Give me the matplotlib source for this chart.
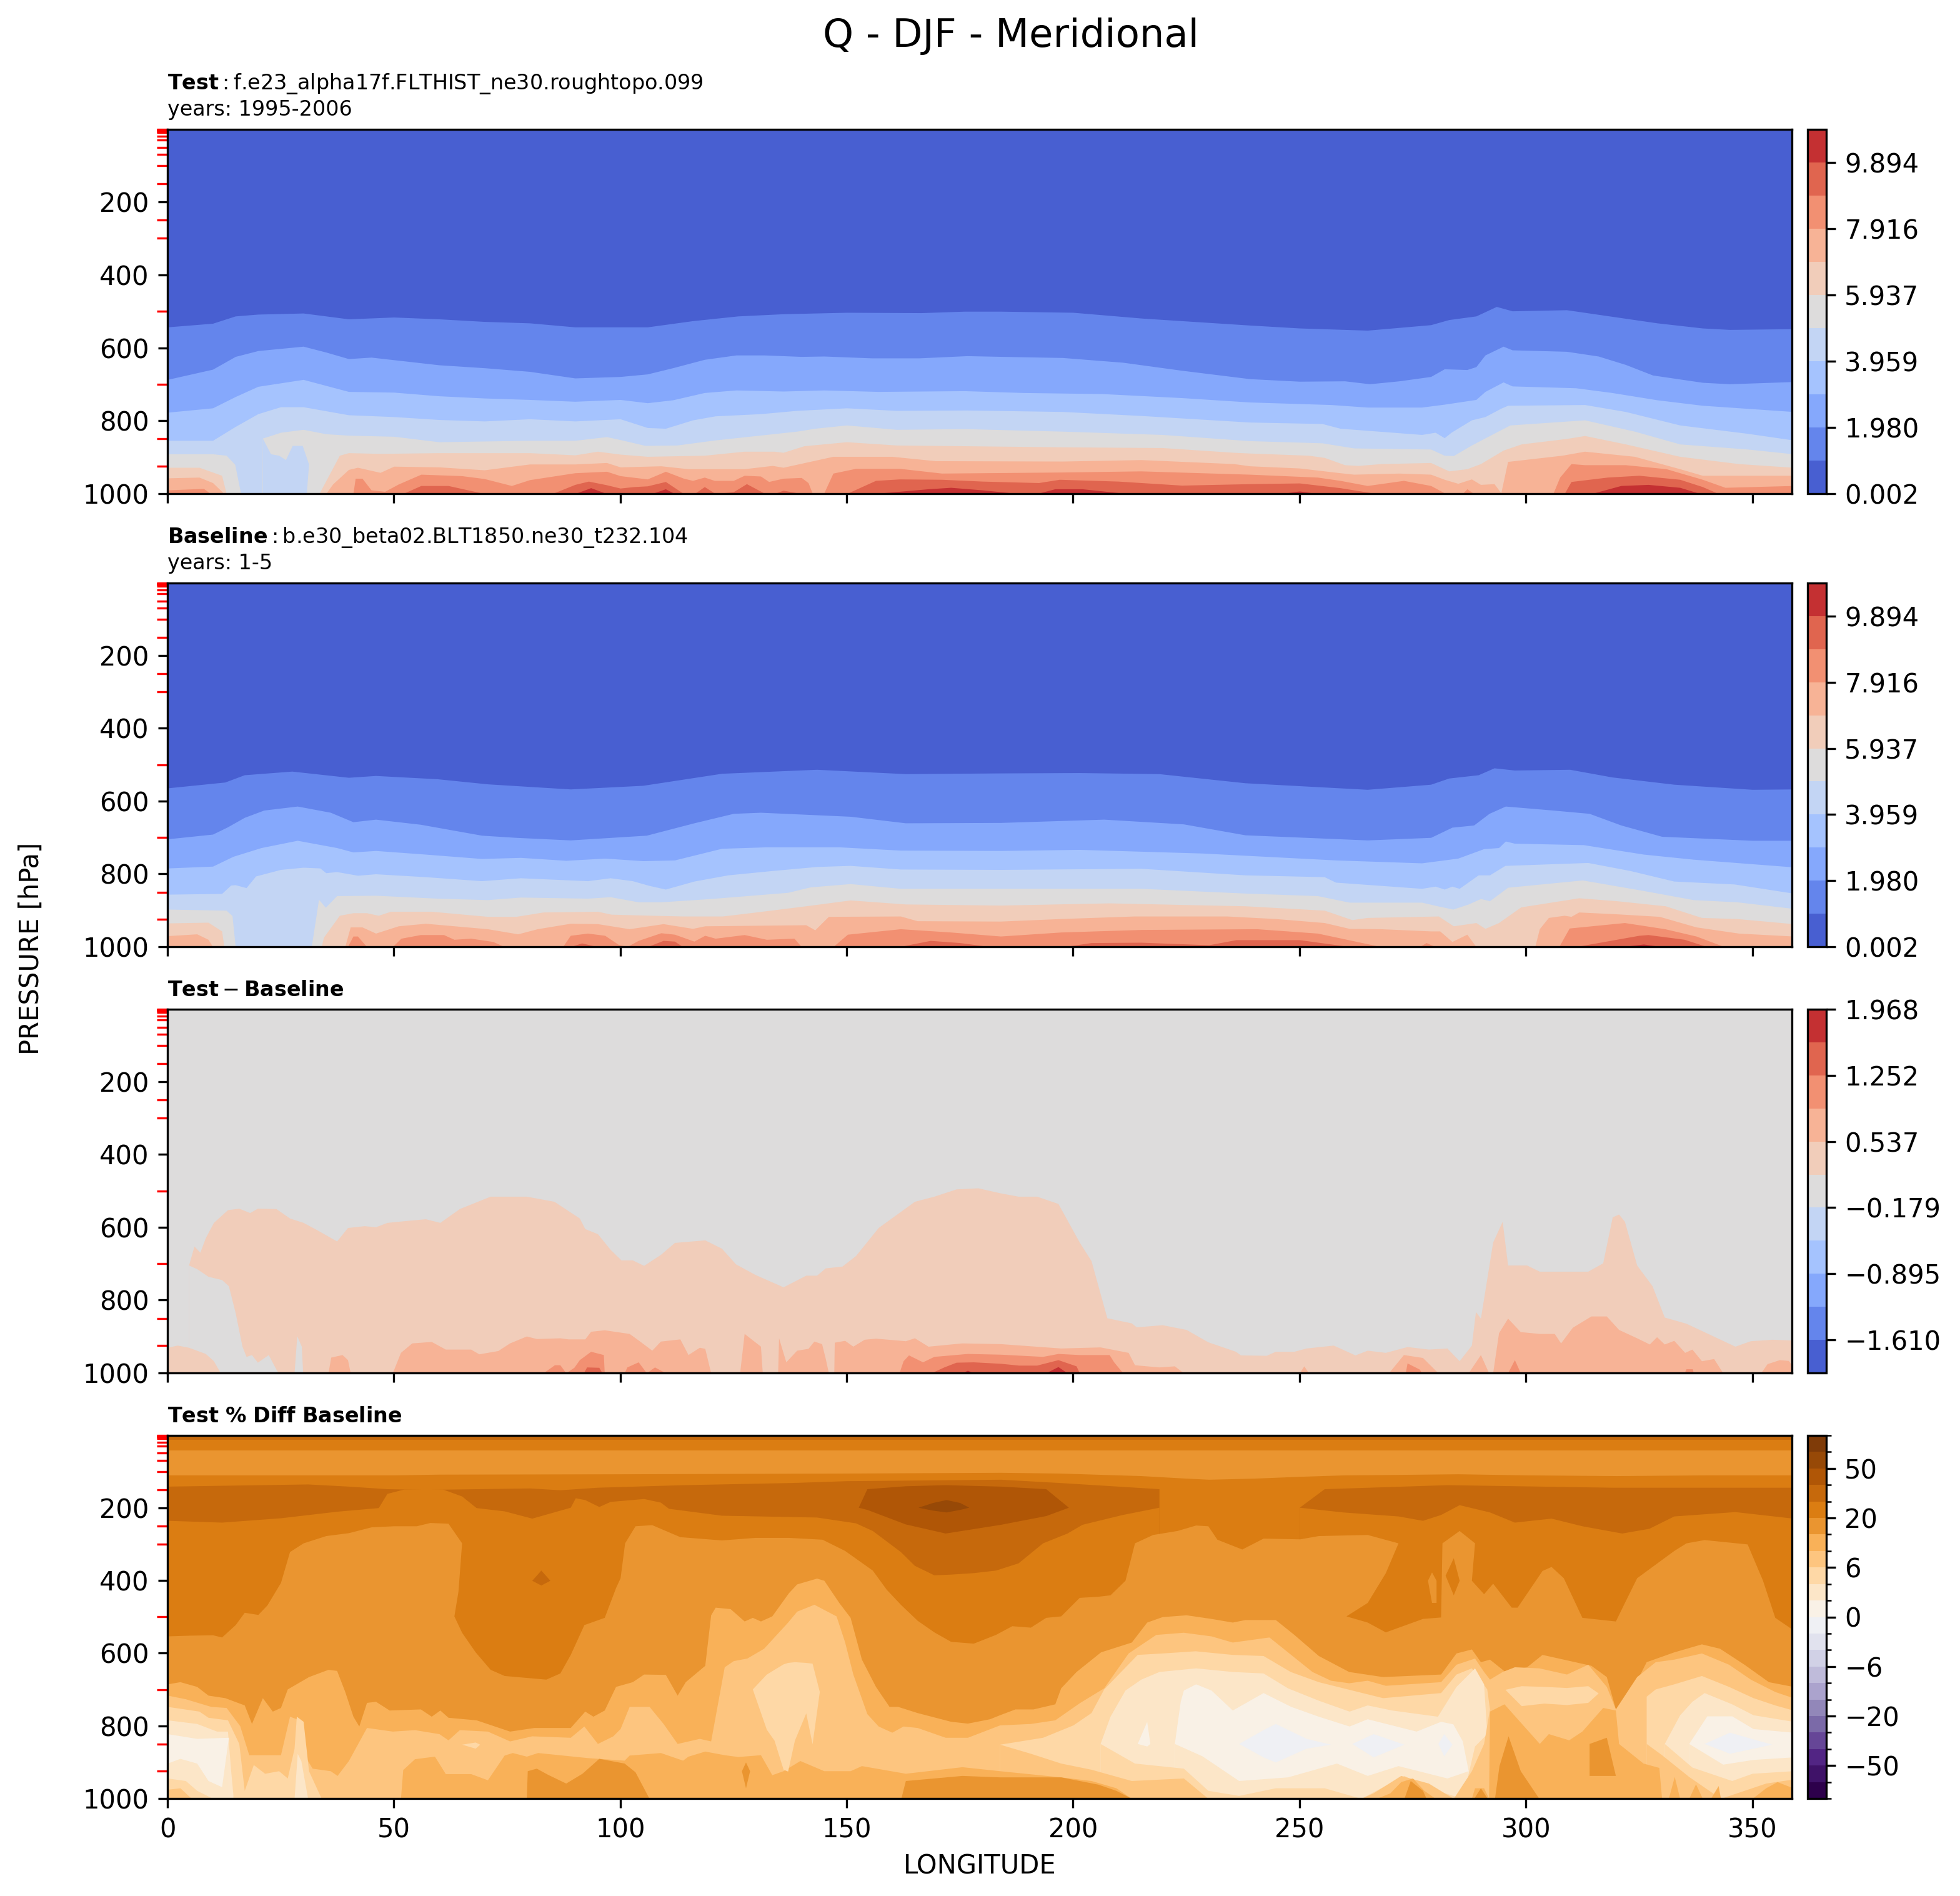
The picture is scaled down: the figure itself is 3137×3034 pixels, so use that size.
"""
Q - DJF - Meridional: four pressure/longitude panels, painted from isolines read off the plot.
"""
import matplotlib
matplotlib.use("Agg")
import matplotlib.pyplot as plt
from matplotlib.cm import ScalarMappable
from matplotlib.colors import BoundaryNorm, ListedColormap

# ---- colour levels
q_levels = [0.002, 0.991, 1.980, 2.970, 3.959, 4.948, 5.937, 6.927, 7.916, 8.905, 9.894, 10.883]
q_ticks = [0.002, 1.980, 3.959, 5.937, 7.916, 9.894]
diff_levels = [-1.968, -1.610, -1.252, -0.895, -0.537, -0.179, 0.179, 0.537, 0.895, 1.252, 1.610, 1.968]
diff_ticks = [-1.610, -0.895, -0.179, 0.537, 1.252, 1.968]
pct_levels = [-100, -75, -50, -40, -30, -20, -15, -10, -6, -4, -2, 0, 2, 4, 6, 10, 15, 20, 30, 40, 50, 75, 100]
pct_ticks = [-50, -20, -6, 0, 6, 20, 50]

lon_ticks = [0, 50, 100, 150, 200, 250, 300, 350]
p_ticks = [200, 400, 600, 800, 1000]
plev_ticks = [1, 2, 3, 5, 7, 10, 20, 30, 50, 70, 100, 150, 250, 300, 500, 700, 850, 925]

# ---- Test Q: pressure of each level boundary, from 0.991 upwards
t1_lon = [0, 10, 15, 20, 30, 40, 50, 60, 70, 80, 90, 100, 106, 116, 126, 136, 150, 166.5, 176, 184, 200, 215.3, 239, 250, 265, 279, 283, 289, 293.5, 297, 309, 319, 329, 339, 345, 359]
t1_p = [543, 533, 513, 508, 505, 521, 516, 521, 528, 532, 543, 543, 543, 526, 513, 507, 503, 504, 500, 500, 503, 519, 538, 546, 552, 537, 523, 513, 487, 499, 496, 514, 532, 546, 550, 548]
t2_lon = [0, 10, 15, 20, 30, 35, 40, 45, 50, 60, 70, 80, 90, 100, 106, 111.6, 118.6, 125.6, 131.8, 140, 145, 155.5, 166, 176.6, 184.5, 197.7, 211, 224, 239, 250, 260, 265.5, 272, 279, 282, 287, 289, 291, 295, 297, 309, 316, 322, 328, 339, 345, 359]
t2_p = [687, 659, 624, 608, 596, 612, 630, 626, 633, 647, 655, 665, 683, 679, 672, 655, 632, 620, 620, 624, 623, 628, 628, 622, 624, 627, 640, 662, 685, 692, 691, 699, 691, 679, 658, 660, 652, 620, 596, 606, 610, 623, 646, 675, 695, 699, 693]
t3_lon = [0, 10, 15, 20, 30, 40, 50, 60, 70, 80, 90, 100, 106, 111.6, 118.6, 125.6, 136, 145, 157, 176, 189, 206.5, 224, 239, 257, 265, 277, 282, 289, 291, 295, 297, 311, 319, 329, 339, 359]
t3_p = [777, 765, 734, 706, 687, 720, 722, 732, 738, 742, 747, 742, 751, 743, 723, 716, 719, 716, 720, 718, 723, 726, 737, 749, 756, 763, 763, 755, 742, 720, 694, 705, 710, 723, 743, 758, 775]
t4_lon = [0, 10, 15, 20, 25, 30, 40, 50, 60, 70, 80, 90, 100, 106, 110, 116, 121, 131, 139, 150, 161, 176.6, 197.7, 215, 239, 255, 259, 277, 280, 282, 283.5, 288, 291, 294.5, 296, 313, 322, 334, 349, 359]
t4_p = [854, 854, 816, 781, 762, 762, 784, 789, 797, 801, 795, 801, 795, 819, 821, 798, 787, 781, 772, 765, 772, 771, 775, 786, 804, 808, 821, 838, 832, 847, 832, 798, 789, 766, 758, 756, 775, 812, 835, 853]
t5_lon = [0, 10, 13, 14.9, 16.2, 20.9, 21, 25, 30, 35, 40, 50, 60, 70, 80, 90, 97, 100, 105.5, 112.5, 121, 130, 139, 143, 150, 161, 176, 197.7, 219.7, 239, 255, 262, 279, 282, 284, 288, 292, 296.5, 313, 324, 334, 349, 359]
t5_p = [891, 891, 895, 920, 1000, 1000, 848, 832, 824, 836, 840, 843, 858, 856, 854, 854, 844, 852, 868, 867, 853, 841, 829, 821, 812, 824, 822, 829, 838, 855, 861, 875, 878, 895, 896, 867, 841, 812, 798, 829, 864, 878, 891]
t6_lon = [0, 7, 12, 13, 33, 33.5, 35, 38, 40, 47, 60, 70, 80, 90, 95, 100, 106, 118.6, 127.4, 134, 136, 140.6, 150, 161, 176, 197.7, 219.7, 235.5, 239, 252, 255.5, 260, 263, 268, 279, 283, 287, 290, 295, 299, 309, 313, 322, 334, 347, 359]
t6_p = [928, 928, 950, 1000, 1000, 1000, 965, 895, 888, 890, 888, 888, 888, 894, 884, 892, 898, 895, 884, 884, 887, 869, 858, 867, 869, 872, 874, 887, 889, 895, 901, 921, 923, 918, 915, 938, 932, 918, 881, 864, 849, 841, 864, 898, 918, 928]
t7_lon = [0, 7, 10, 12.5, 35, 36.5, 40, 42, 47, 50, 60, 70, 80, 90, 97, 100, 109, 115, 127.4, 133.6, 136, 147, 160, 169.6, 197.7, 215, 235.5, 239, 250, 259, 262, 272, 279, 282, 285, 288, 290, 293, 294.5, 296, 308, 313, 324, 334, 339, 359]
t7_p = [957, 955, 970, 1000, 1000, 974, 934, 928, 942, 925, 927, 935, 919, 919, 915, 927, 924, 932, 932, 923, 928, 898, 898, 910, 911, 907, 918, 924, 930, 943, 947, 944, 947, 961, 972, 960, 975, 973, 998, 912, 895, 884, 898, 932, 950, 950]
t8_lon = [0, 8, 9.5, 41, 41.5, 43, 45, 48, 51, 56, 65, 70, 76, 80, 90, 97, 100, 106, 110, 114, 116, 118.6, 120.8, 125, 127.4, 131, 132.8, 136, 140, 141.5, 142.4, 145, 147, 152, 161.7, 171, 197.7, 215, 239, 254, 259, 265, 273, 279, 282, 286, 287, 288.5, 306, 307.5, 310, 313, 322, 331, 339, 344, 359]
t8_p = [990, 986, 1000, 1000, 958, 958, 990, 994, 974, 947, 951, 959, 978, 962, 943, 939, 951, 960, 939, 958, 964, 955, 964, 964, 950, 952, 967, 958, 956, 970, 998, 998, 944, 931, 931, 944, 941, 938, 947, 955, 964, 978, 964, 978, 998, 1000, 987, 1000, 1000, 955, 918, 921, 921, 932, 961, 983, 978]
t9_lon = [0, 52, 56, 62, 70, 85, 90, 93, 97, 100, 103, 106, 110, 114, 116.4, 118.6, 121, 125, 127.9, 132, 134, 136, 140, 150, 156.4, 161.7, 171, 180, 192.4, 197, 210, 224, 239, 250, 259, 266, 273, 308.5, 310, 318, 325, 334, 339, 342.5, 359]
t9_p = [1000, 1000, 978, 978, 1000, 1000, 975, 966, 976, 985, 981, 979, 967, 1000, 1000, 981, 1000, 995, 973, 1000, 1000, 991, 1000, 1000, 964, 960, 961, 966, 970, 961, 966, 977, 973, 971, 984, 998, 1000, 1000, 967, 955, 950, 961, 981, 1000, 1000]
t10_lon = [0, 90, 93.5, 97, 107, 110, 112, 156, 168, 173, 180, 188, 192, 196, 202, 212, 246, 250, 254, 314.5, 321, 327, 334, 338.5, 359]
t10_p = [1000, 1000, 984, 1000, 1000, 987, 1000, 1000, 987, 983, 990, 1000, 1000, 987, 987, 1000, 1000, 993, 1000, 1000, 978, 975, 983, 1000, 1000]
t_dry_lon = [21, 22.8, 24.6, 26.1, 27.6, 29.8, 31.2, 30.7]
t_dry_top = [848, 891, 895, 907, 868, 868, 919, 1000]
t_dry_bot = [1000, 1000, 1000, 1000, 1000, 1000, 1000, 1000]
test_lons = [t1_lon, t2_lon, t3_lon, t4_lon, t5_lon, t6_lon, t7_lon, t8_lon, t9_lon, t10_lon]
test_ps = [t1_p, t2_p, t3_p, t4_p, t5_p, t6_p, t7_p, t8_p, t9_p, t10_p]

# ---- Baseline Q
b1_lon = [0, 12.7, 17, 27.5, 40, 46, 59.6, 70.7, 89, 105, 122.4, 143.4, 163, 184, 201.4, 219, 238, 265, 279, 283, 289.5, 293, 297.5, 309.7, 319, 332.7, 350, 359]
b1_p = [564, 548, 528, 518, 535, 530, 539, 553, 567, 557, 524, 513, 525, 523, 522, 525, 550, 568, 554, 537, 528, 509, 515, 513, 534, 554, 568, 567]
b2_lon = [0, 10, 13.3, 17, 21.3, 28.7, 36, 41, 46, 55.9, 69.4, 77, 89, 105.8, 116.3, 125, 131, 150.8, 163, 184, 206.8, 224.4, 238, 265, 279, 283.7, 288.5, 291.9, 295.5, 306, 314, 321, 330, 350, 359]
b2_p = [704, 691, 671, 645, 625, 614, 631, 657, 650, 664, 694, 700, 707, 694, 660, 634, 631, 642, 660, 659, 650, 663, 693, 707, 700, 672, 666, 634, 614, 625, 634, 666, 697, 708, 708]
b3_lon = [0, 10, 14.5, 20.7, 28.7, 37.4, 41, 46, 57, 69.4, 78, 88, 96.6, 105, 112, 122.4, 132.3, 148.3, 161.9, 184, 201.4, 228.5, 258, 277, 285, 290.7, 294, 295.5, 297.5, 312.7, 326, 337, 359]
b3_p = [784, 779, 752, 728, 708, 728, 740, 736, 746, 758, 755, 763, 757, 764, 762, 730, 726, 726, 735, 736, 733, 743, 762, 770, 757, 731, 728, 710, 716, 720, 746, 760, 781]
b4_lon = [0, 12, 14, 15, 17.4, 19.5, 25, 30, 33.7, 35, 37.4, 42, 46, 57, 69.4, 78, 92.8, 97.8, 102.7, 106.4, 110, 116.3, 123.8, 133.6, 143.4, 150.8, 161.9, 184, 215, 238, 255.5, 258, 277, 280, 282, 283.7, 285.3, 289.5, 292, 295.4, 313.7, 323, 332.7, 346, 359]
b4_p = [856, 854, 831, 830, 838, 806, 788, 782, 784, 797, 794, 804, 800, 808, 819, 811, 819, 811, 819, 832, 842, 820, 803, 791, 780, 777, 787, 788, 785, 803, 808, 823, 840, 834, 842, 834, 840, 803, 803, 777, 769, 791, 820, 828, 853]
b5_lon = [0, 13, 14.3, 15, 31.8, 33.4, 34.9, 37.4, 46, 59.6, 70.7, 78, 92.8, 97.8, 104, 109, 120, 137, 142, 150.8, 161.9, 184, 215, 238, 254, 261, 277, 280.5, 283.9, 287.3, 290, 292, 296, 312.5, 326, 337, 346.6, 359]
b5_p = [897, 900, 915, 1000, 1000, 870, 892, 860, 859, 867, 871, 864, 867, 863, 877, 877, 868, 851, 836, 827, 840, 840, 840, 853, 860, 878, 878, 888, 897, 883, 868, 874, 837, 817, 846, 871, 877, 895]
b6_lon = [0, 9, 12, 12.5, 34, 34.5, 38, 41, 44, 46.6, 49.3, 58.3, 70.7, 77, 83, 95, 98, 107, 113.8, 122.6, 130, 141, 150.8, 163, 184, 208, 238, 255.5, 261.6, 265, 280.7, 284, 289, 291, 294, 298.9, 311.7, 320, 330.8, 338.8, 346.6, 359]
b6_p = [935, 933, 957, 1000, 1000, 974, 914, 907, 907, 914, 903, 903, 917, 917, 905, 903, 911, 914, 916, 916, 905, 888, 872, 883, 886, 880, 888, 900, 926, 920, 916, 943, 934, 950, 934, 891, 866, 874, 888, 920, 923, 937]
b7_lon = [0, 6.5, 9, 10, 39.2, 40.4, 43, 46, 51, 57, 70.7, 77.4, 81.7, 89, 95, 102, 109.5, 116, 118.7, 141, 143, 146, 161.9, 165.6, 184, 197.3, 213.5, 234, 244.7, 255.5, 261, 268, 279, 281, 283.7, 287, 289, 302, 303, 305, 308.5, 310, 311.7, 320, 329.5, 337.6, 347, 359]
b7_p = [970, 965, 980, 1000, 1000, 946, 946, 963, 943, 936, 951, 965, 951, 936, 937, 951, 937, 950, 943, 940, 954, 917, 916, 929, 930, 923, 916, 916, 923, 934, 950, 951, 957, 957, 986, 966, 1000, 1000, 951, 920, 914, 917, 905, 910, 917, 946, 963, 971]
b8_lon = [0, 39.8, 41, 42, 44, 49.7, 51.6, 55.9, 61, 63.3, 67, 71.9, 74.4, 87.3, 89, 92.8, 96.6, 99.6, 101.5, 104, 109, 112, 116.3, 118.7, 121, 127.4, 132.3, 138.4, 140, 147, 150.2, 161.9, 173, 184, 197.3, 215, 240.6, 254, 268, 276.5, 278, 280, 307.3, 309.6, 321.8, 330.7, 337.6, 343.8, 359]
b8_p = [1000, 1000, 971, 971, 1000, 1000, 977, 967, 967, 980, 977, 986, 1000, 1000, 969, 963, 969, 994, 1000, 983, 962, 966, 985, 969, 977, 967, 980, 977, 1000, 1000, 966, 951, 960, 971, 960, 953, 951, 963, 1000, 1000, 989, 1000, 1000, 949, 934, 951, 971, 1000, 1000]
b9_lon = [0, 89, 91.5, 95, 106, 109.5, 112, 113.8, 161.6, 168.5, 175, 181.7, 198, 204, 215, 230, 236, 250, 260, 311, 325, 327, 335, 340, 359]
b9_p = [1000, 1000, 990, 1000, 1000, 983, 985, 1000, 1000, 983, 989, 1000, 1000, 989, 988, 995, 981, 981, 998, 1000, 969, 967, 980, 1000, 1000]
b10_lon = [0, 321, 326, 330, 359]
b10_p = [1000, 1000, 993, 1000, 1000]
base_lons = [b1_lon, b2_lon, b3_lon, b4_lon, b5_lon, b6_lon, b7_lon, b8_lon, b9_lon, b10_lon]
base_ps = [b1_p, b2_p, b3_p, b4_p, b5_p, b6_p, b7_p, b8_p, b9_p, b10_p]

# ---- Test - Baseline
d1_lon = [4.7, 5.9, 7.2, 8.4, 10.2, 13.3, 15.8, 18.2, 19.9, 24, 27, 30, 33, 37.4, 39.8, 43.5, 46, 48.5, 53.4, 57, 60.2, 64.5, 71.3, 79.3, 85.4, 91, 92.2, 95, 97.8, 100.2, 102.7, 105.2, 108.9, 112, 118.7, 122.4, 125.5, 129.8, 136, 141, 143.4, 145.3, 149, 152, 157, 165, 169.3, 174.2, 179, 184, 187.9, 192, 196.7, 201.4, 204, 207.5, 212.9, 214, 219.7, 225, 229.8, 235.9, 237, 242.7, 244.7, 248.8, 251.5, 257.5, 262.3, 265, 269, 273.8, 278.5, 282.6, 285.3, 288, 288.9, 290, 292.7, 294.8, 296, 300.2, 303, 313.7, 317, 319.1, 320.5, 321.8, 324.5, 327.9, 330.6, 335.4, 346.2, 349.6, 354.4, 359]
d1_p = [704, 652, 669, 629, 587, 552, 548, 560, 548, 549, 575, 587, 607, 638, 601, 596, 599, 587, 581, 577, 587, 549, 515, 515, 529, 575, 604, 618, 661, 690, 690, 705, 675, 642, 635, 658, 701, 730, 764, 732, 732, 712, 707, 678, 601, 529, 515, 495, 492, 506, 515, 515, 535, 641, 692, 849, 863, 874, 868, 881, 915, 941, 951, 952, 941, 941, 932, 924, 951, 938, 944, 928, 935, 932, 967, 924, 832, 850, 641, 584, 704, 704, 721, 721, 698, 572, 564, 584, 704, 761, 847, 864, 927, 912, 908, 910]
d1_gap_lon = [4.7, 6.5, 9, 12, 13.5, 15, 16.5, 17.4, 18.6, 19.9, 22.3, 24, 24.5, 28, 28.6, 29.6, 29.9]
d1_gap_p = [704, 714, 735, 744, 761, 835, 927, 955, 950, 971, 950, 990, 1000, 1000, 898, 927, 1000]
d1_corner_lon = [0, 2.2, 4.7, 8.4, 10.2, 11.7]
d1_corner_p = [930, 924, 930, 947, 967, 1000]
d2_lon = [0, 35.5, 36.1, 38.6, 39.8, 40.4, 49.7, 51.5, 54, 58.3, 61.4, 67, 68.8, 73, 75.6, 79.3, 81.5, 86.7, 88.5, 92.2, 93.5, 96.5, 102, 104, 107, 108.9, 113.2, 115, 117.5, 118.7, 120, 126.4, 127.4, 131, 131.4, 134.8, 135, 136.6, 139, 141.5, 142.8, 144.5, 145.3, 146, 147.2, 147.3, 149.6, 151.4, 153.9, 156.4, 163, 165, 168, 175.5, 184, 197.3, 206, 212.2, 213.6, 219, 222.4, 224.4, 250, 251, 252, 269.7, 273, 277.2, 280.6, 287.3, 290, 291.8, 292.7, 294, 296, 298.8, 303, 306.3, 307.7, 310.3, 314.4, 317.8, 320.5, 324.5, 327.3, 328.9, 330.6, 332.7, 335.1, 336.7, 338.8, 341.5, 343.5, 351.9, 353.3, 356, 358, 359]
d2_p = [1000, 1000, 957, 950, 964, 1000, 1000, 944, 918, 914, 935, 935, 948, 939, 918, 899, 906, 904, 907, 907, 886, 882, 892, 910, 938, 913, 907, 950, 930, 933, 1000, 1000, 892, 927, 1000, 1000, 904, 970, 938, 933, 913, 920, 960, 1000, 1000, 916, 911, 927, 908, 905, 912, 904, 927, 918, 920, 932, 929, 944, 978, 984, 981, 1000, 1000, 981, 1000, 1000, 950, 958, 1000, 1000, 950, 1000, 1000, 890, 850, 887, 892, 892, 918, 875, 844, 844, 881, 904, 921, 901, 921, 911, 944, 935, 967, 961, 1000, 1000, 975, 964, 966, 984]
d3_lon = [0, 83, 85.5, 86.7, 88, 89.8, 91, 93.5, 96.3, 96.5, 100.9, 101.5, 104, 105.8, 107.6, 110, 161.6, 162.5, 163.7, 166.8, 169.3, 176.7, 184, 193.3, 196.7, 201.4, 208, 209, 211, 273.4, 273.8, 276.5, 277, 296, 297.5, 298.8, 335, 335.4, 336.8, 337, 359]
d3_p = [1000, 1000, 978, 978, 1000, 985, 964, 941, 950, 1000, 1000, 984, 970, 1000, 984, 1000, 1000, 967, 951, 970, 955, 947, 949, 955, 947, 950, 950, 970, 1000, 1000, 973, 990, 1000, 1000, 964, 1000, 1000, 989, 989, 1000, 1000]
d4_lon = [0, 91.9, 92.6, 95.3, 96, 168.7, 171.5, 174.2, 178, 184, 188, 192, 196.7, 200.7, 201.4, 359]
d4_p = [1000, 1000, 984, 985, 1000, 1000, 984, 971, 970, 974, 979, 979, 964, 981, 1000, 1000]
d5_lon = [0, 175.5, 176.7, 178, 194, 196.7, 198.7, 359]
d5_p = [1000, 1000, 993, 1000, 1000, 983, 1000, 1000]

# ---- Test % Diff Baseline: upper troposphere
strip_lon = [0, 359]
strip_30_bot = [13, 13]
strip_20_top = [13, 13]
strip_20_bot = [42, 42]
pct_20_top_lon = [0, 50, 60, 100, 150, 184, 197, 215, 225, 230, 240, 250, 260, 270, 285, 300, 320, 340, 359]
pct_20_top_p = [110, 110, 108, 107, 105, 103, 105, 112, 119, 122, 119, 114, 110, 109, 107, 110, 112, 110, 110]
pct_30_l_lon = [0, 31, 40, 48.5, 57, 80, 86.7, 95, 114, 138, 150, 184, 197, 219]
pct_30_l_top = [141, 135, 141, 148, 150, 146, 151, 144, 137, 131, 126, 122, 131, 148]
pct_30_l_bot_lon = [0, 12, 25, 37.4, 46.6, 48.5, 52.2, 60.8, 65, 68.2, 74.4, 80.5, 89, 90.1, 92.2, 95.3, 97.8, 105.2, 108.9, 110.7, 122.4, 143.4, 152, 155.7, 161.9, 165, 169.3, 173, 178, 182.9, 187.9, 193.3, 198.7, 202, 210.9, 219]
pct_30_l_bot = [235, 240, 228, 210, 200, 161, 149, 149, 168, 200, 209, 229, 199, 173, 178, 197, 183, 175, 185, 202, 221, 226, 242, 263, 321, 359, 385, 383, 379, 372, 352, 297, 270, 246, 219, 199]
pct_30_r_lon = [250, 255.5, 282.6, 319, 359]
pct_30_r_top = [199, 148, 137, 144, 144]
pct_30_r_bot_lon = [250, 259.6, 271.8, 277.2, 281.2, 285.3, 292, 297.5, 305.6, 312.4, 321.2, 327.2, 332.7, 346.2, 359]
pct_30_r_bot = [199, 212, 223, 235, 219, 192, 212, 240, 229, 250, 270, 257, 223, 211, 229]
pct_40_lon = [152.6, 154.5, 163, 171.8, 184, 194, 199]
pct_40_top = [199, 148, 140, 137, 141, 148, 199]
pct_40_bot = [199, 205, 245, 270, 246, 222, 199]
pct_50_lon = [165.8, 169, 172, 175, 177]
pct_50_top = [199, 186, 178, 186, 199]
pct_50_bot = [199, 207, 212, 205, 199]
pct_30_spot_lon = [80.5, 82.5, 84.5]
pct_30_spot_top = [400, 372, 400]
pct_30_spot_bot = [400, 413, 400]
pct_20_bot_lon = [0, 5, 10, 12, 15, 17, 20, 22, 25, 27, 30, 35, 40, 45, 50, 55, 58, 62, 65, 64.2, 63.3, 65, 68, 71.3, 74.4, 83.6, 86.7, 89, 92, 96.5, 99, 100, 101, 103.3, 107, 113.2, 122.4, 129.8, 137.2, 144.6, 149.6, 155.7, 158.8, 161.9, 165.6, 169.3, 173, 178, 182.9, 186.5, 190.6, 194, 197.3, 201.4, 205.5, 208.2, 211.5, 213.6, 217.6, 223, 227.1, 229.8, 231.8, 237.3, 242, 250.1, 254.2, 265, 271.8, 269, 265, 260.3, 265, 269, 277.2, 281.2, 281.5, 285.3, 288.7, 288, 290.7, 292.7, 296.8, 298.1, 303.6, 305.6, 308.3, 312.4, 319.8, 321.8, 324.5, 332.7, 335.4, 339.4, 348.9, 352.3, 355, 359]
pct_20_bot_p = [553, 551, 550, 556, 522, 488, 494, 468, 406, 321, 297, 277, 269, 253, 250, 250, 241, 243, 297, 430, 498, 543, 597, 645, 662, 672, 655, 604, 522, 502, 420, 393, 297, 250, 247, 280, 289, 282, 282, 287, 318, 372, 425, 466, 510, 542, 568, 573, 549, 525, 529, 502, 498, 447, 444, 440, 400, 297, 274, 263, 248, 250, 287, 314, 284, 286, 277, 274, 297, 379, 461, 498, 515, 542, 505, 501, 297, 263, 297, 400, 437, 408, 474, 474, 373, 362, 393, 502, 512, 461, 393, 318, 297, 288, 300, 400, 502, 536]
# streaks inside the tongue near 285E
pct_20_streak_lon = [282.2, 284, 285.3]
pct_20_streak_top = [386, 338, 400]
pct_20_streak_bot = [386, 440, 400]
pct_15_spot_lon = [278.3, 279.2, 280.2]
pct_15_spot_top = [400, 377, 400]
pct_15_spot_bot = [400, 461, 461]

# ---- Test % Diff Baseline: lower troposphere, tops of the lighter bands
pct_10_top_lon = [0, 2.8, 6.5, 9, 12.7, 17, 18.6, 21, 23.2, 25, 26.5, 31.2, 35.5, 37.4, 39.2, 41, 42.3, 44, 46, 49, 55.9, 58.3, 60.2, 62, 68.2, 75.6, 81, 89, 92.2, 94, 96.5, 99, 102.7, 105.2, 110, 112.6, 114.4, 118.7, 120, 121, 124.3, 127.4, 129.2, 131, 133.5, 137.2, 139, 143.4, 145, 148.3, 150.8, 153.3, 156.4, 159.4, 161.3, 165.6, 173, 176.7, 181.6, 183.8, 187.2, 191.2, 196, 197.3, 200.7, 206.1, 212.9, 216.3, 219.7, 225, 230.5, 235.2, 238, 244.7, 248.8, 254.2, 260.9, 268.4, 281.2, 284.6, 288, 290, 292, 295.4, 300.2, 303.6, 308.3, 314.4, 317.8, 319.8, 321.2, 326.6, 332.7, 338.8, 342.8, 348.2, 353.6, 359]
pct_10_top_p = [685, 679, 692, 716, 723, 743, 794, 723, 760, 750, 699, 665, 645, 648, 706, 774, 801, 736, 733, 757, 754, 774, 757, 777, 784, 815, 805, 805, 760, 774, 757, 692, 679, 658, 659, 716, 679, 634, 495, 474, 478, 512, 502, 512, 498, 434, 410, 394, 400, 461, 502, 617, 692, 747, 747, 764, 788, 793, 781, 770, 754, 754, 740, 696, 651, 597, 570, 515, 500, 495, 505, 515, 508, 508, 549, 607, 651, 665, 658, 600, 589, 624, 617, 651, 638, 604, 617, 634, 665, 754, 757, 624, 597, 575, 587, 631, 679, 692]
pct_6_top_lon = [0, 4, 9.6, 13, 16, 18, 22, 25, 27, 28.5, 30, 32, 36, 37.5, 40, 44, 49.7, 54.6, 60, 62, 64.5, 70.7, 75.6, 80.5, 89, 92, 95, 98.4, 100, 102, 106.4, 109.5, 112.6, 117.5, 120, 123, 125, 128, 131.7, 137, 139, 142.8, 147.7, 149.6, 151.4, 154.5, 157, 160, 162.5, 165.6, 171.8, 176.7, 183.8, 190.6, 196, 201.4, 206.8, 212.2, 218.3, 224.4, 230.5, 235.2, 243.3, 248.8, 252.8, 256.9, 260.9, 265, 269, 281.2, 284.6, 288.7, 290.7, 292, 294.8, 297.5, 302.9, 309, 313.7, 317.8, 319.8, 324.5, 328.6, 332.7, 338.8, 344.8, 349.6, 355, 359]
pct_6_top_p = [716, 726, 747, 750, 800, 880, 880, 880, 774, 781, 876, 917, 924, 937, 896, 805, 815, 811, 822, 839, 811, 815, 842, 828, 832, 801, 849, 828, 808, 747, 747, 794, 849, 835, 842, 638, 621, 614, 587, 515, 485, 466, 498, 570, 658, 767, 801, 818, 801, 805, 832, 832, 798, 794, 784, 737, 696, 600, 549, 543, 553, 570, 556, 611, 651, 675, 682, 675, 689, 679, 631, 614, 651, 672, 651, 638, 641, 658, 631, 692, 754, 665, 624, 617, 600, 631, 672, 706, 723]
pct_4_l_lon = [0, 7, 9, 13.3, 15.8, 17, 19, 21.5, 24.6, 26.5, 28, 28.5, 30, 31.2, 34]
pct_4_l_top = [747, 760, 777, 784, 849, 978, 907, 931, 924, 944, 862, 774, 788, 924, 1000]
pct_4_l_bot_lon = [0, 2.8, 5.3, 34]
pct_4_l_bot = [975, 971, 1000, 1000]
pct_2_l_lon = [0, 6.5, 10.9, 13.3, 14, 14.5]
pct_2_l_top = [784, 794, 815, 815, 923, 990]
pct_2_l_bot_lon = [0, 4, 6.5, 10, 14.5]
pct_2_l_bot = [944, 951, 978, 1000, 1000]
pct_2_lb_lon = [28, 28.7, 29.5, 31]
pct_2_lb_top = [1000, 876, 896, 1000]
pct_0_l_lon = [0, 6.5, 13.3, 13.5]
pct_0_l_top = [822, 835, 832, 832]
pct_0_l_bot_lon = [0, 2.8, 6.5, 9, 12, 13.5]
pct_0_l_bot = [903, 890, 903, 951, 968, 832]

pct_4_c_lon = [183.8, 193.3, 200, 204, 206.8, 214.2, 219.7, 227, 235.2, 242, 248, 254.2, 261.6, 268.4, 281.2, 284.6, 288, 291.4, 292]
pct_4_c_top = [851, 832, 798, 764, 699, 604, 600, 594, 604, 607, 651, 679, 702, 723, 709, 658, 641, 699, 754]
pct_4_c_bot_lon = [183.8, 190.6, 197.3, 204, 212.9, 224.4, 229.8, 263.6, 266.3, 272.4, 278.5, 284, 288, 290.7, 292]
pct_4_c_bot = [851, 876, 903, 920, 951, 944, 1000, 1000, 985, 937, 958, 1000, 924, 849, 754]
pct_2_c_lon = [206, 208.2, 211.5, 215, 219, 227.1, 235.2, 242, 247.4, 254.2, 261, 265, 270.4, 280.5, 284.6, 288.7, 290.7, 291.4]
pct_2_c_top = [849, 774, 702, 672, 651, 641, 651, 655, 696, 730, 760, 743, 757, 774, 692, 641, 685, 822]
pct_2_c_bot_lon = [206, 213.6, 224.4, 229.8, 236.6, 244.7, 255.5, 263.6, 273.1, 278.5, 286, 288.7, 291.4]
pct_2_c_bot = [849, 903, 917, 978, 992, 971, 971, 1000, 937, 971, 1000, 856, 822]
pct_0_c_lon = [222.4, 223.7, 224.4, 227.1, 230.5, 235.2, 242, 248.1, 254.2, 261, 265, 275.8, 281.2, 283.9, 286, 287.3]
pct_0_c_top = [849, 733, 702, 685, 702, 757, 709, 747, 774, 801, 781, 815, 788, 795, 842, 924]
pct_0_c_bot_lon = [222.4, 228.5, 236.6, 247.4, 258.2, 265, 271.8, 282.6, 287.3]
pct_0_c_bot = [849, 883, 951, 941, 903, 937, 910, 944, 924]
pct_0_spot_lon = [214.2, 216.3, 217]
pct_0_spot_top = [849, 788, 849]
pct_0_spot_bot = [849, 856, 849]
neg_a_lon = [236.6, 242, 244.7, 251.5, 256.9]
neg_a_top = [849, 811, 794, 835, 851]
neg_a_bot = [849, 886, 900, 862, 851]
neg_b_lon = [261.6, 266.3, 273.1]
neg_b_top = [849, 822, 851]
neg_b_bot = [849, 886, 851]
neg_c_lon = [280.6, 281.9, 283.7]
neg_c_top = [849, 822, 851]
neg_c_bot = [849, 883, 851]

pct_4_r_lon = [326.6, 328.6, 332.7, 338.8, 344.8, 350.2, 355, 359]
pct_4_r_top = [719, 699, 685, 662, 692, 723, 743, 757]
pct_4_r_bot_lon = [326.6, 330, 336, 343, 353, 359]
pct_4_r_bot = [849, 880, 940, 1000, 958, 947]
pct_2_r_lon = [330.6, 334, 336.7, 339.4, 345.5, 350.2, 359]
pct_2_r_top = [849, 770, 733, 709, 740, 770, 788]
pct_2_r_bot_lon = [330.6, 336.7, 345.5, 350, 359]
pct_2_r_bot = [849, 914, 951, 931, 924]
pct_0_r_lon = [336, 340, 345.5, 350.2, 359]
pct_0_r_top = [849, 773, 773, 808, 818]
pct_0_r_bot_lon = [336, 343.5, 350.2, 359]
pct_0_r_bot = [849, 906, 893, 886]
neg_r_lon = [339.4, 345, 354.3]
neg_r_top = [849, 818, 851]
neg_r_bot = [849, 876, 851]

pct_4_m_lon = [129.2, 132.3, 134, 136, 137, 138.5, 141, 142.4, 144]
pct_4_m_top = [699, 658, 645, 630, 626, 624, 626, 628, 706]
pct_4_m_bot = [699, 810, 840, 920, 925, 840, 765, 850, 706]
pct_4_p_lon = [65, 68, 69]
pct_4_p_top = [851, 845, 851]
pct_4_p_bot = [851, 862, 851]
pct_4_s_lon = [295.4, 299, 304, 309, 313.7, 316]
pct_4_s_top = [700, 690, 692, 695, 690, 710]
pct_4_s_bot = [700, 745, 738, 742, 736, 710]

# ---- bottoms of the lighter bands, over the surface
pct_6_bot_lon = [0, 51.5, 52, 54.6, 59, 61.4, 67, 70.7, 74.4, 76.2, 79.3, 81.8, 92.8, 100.9, 102, 108.9, 113.8, 115, 118.7, 123, 126, 131, 133.5, 136, 139.7, 145, 150.8, 153.3, 163, 175.5, 183.8, 197.3, 204, 209.5, 212.9, 263.6, 267, 270, 272.4, 275, 277.5, 280, 288, 288.7, 290.7, 291.8, 292, 295.2, 303, 305, 309.5, 312.4, 317, 319.8, 320.5, 325.9, 329.4, 330, 331.5, 332.8, 334, 336, 337.5, 339, 340.8, 342.5, 343, 350, 353, 355.5, 359]
pct_6_bot_p = [1000, 1000, 921, 891, 884, 932, 932, 949, 881, 874, 884, 874, 888, 895, 881, 874, 895, 884, 870, 880, 885, 880, 935, 924, 896, 924, 924, 910, 931, 913, 924, 941, 951, 971, 1000, 1000, 1000, 985, 954, 944, 978, 1000, 1000, 971, 971, 1000, 760, 740, 849, 822, 839, 815, 750, 757, 849, 903, 915, 1000, 1000, 940, 1000, 1000, 960, 1000, 1000, 965, 1000, 1000, 971, 954, 971]
pct_15_a_lon = [79.3, 79.5, 81.5, 84, 88, 91.6, 95.3, 100.9, 103.3, 106.4]
pct_15_a_p = [1000, 924, 917, 934, 958, 931, 890, 903, 927, 1000]
pct_15_b_lon = [162, 163, 169.3, 175.5, 183.8, 197.3, 205.5, 209.5, 212.9]
pct_15_b_p = [1000, 951, 944, 937, 941, 941, 961, 978, 1000]
pct_15_c_lon = [293.1, 294.1, 296.1, 298.8, 302.9]
pct_15_c_p = [1000, 910, 828, 924, 1000]
pct_15_d_lon = [273.1, 274.5, 277.2, 278]
pct_15_d_p = [1000, 951, 978, 1000]
pct_15_e_lon = [314, 317.8, 319.8]
pct_15_e_top = [849, 832, 937]
pct_15_e_bot = [937, 937, 937]
pct_15_f_lon = [126.8, 127.7, 128.6]
pct_15_f_top = [924, 900, 924]
pct_15_f_bot = [924, 971, 924]
pct_15_g_lon = [288.5, 290, 291.5]
pct_15_g_p = [1000, 971, 1000]

titles = [
    (r"$\mathbf{Test}:$f.e23_alpha17f.FLTHIST_ne30.roughtopo.099", "years: 1995-2006"),
    (r"$\mathbf{Baseline}:$b.e30_beta02.BLT1850.ne30_t232.104", "years: 1-5"),
]


def band_colors(name, count, centred):
    cmap = plt.get_cmap(name)
    if centred:
        return ListedColormap([cmap((i + 0.5) / count) for i in range(count)])
    return ListedColormap([cmap(i / (count - 1)) for i in range(count)])


def make_axes(fig, y0, y1):
    """Panel and colourbar axes from pixel rows in the 3137x3034 frame."""
    W, H = 3137.0, 3034.0
    ax = fig.add_axes([268 / W, 1 - y1 / H, 2600 / W, (y1 - y0) / H])
    cax = fig.add_axes([2893 / W, 1 - y1 / H, 30 / W, (y1 - y0) / H])
    return ax, cax


def style_axes(ax, show_x):
    ax.set_xlim(0, 358.75)
    ax.set_ylim(1000, 1)
    ax.set_xticks(lon_ticks)
    ax.set_yticks(p_ticks)
    ax.set_yticks(plev_ticks, minor=True)
    ax.tick_params(axis='y', which='minor', color='red', length=4, width=0.8)
    ax.tick_params(labelsize=10)
    if not show_x:
        ax.set_xticklabels([])


def paint(ax, lon, top, bot, value, cmap, norm):
    ax.fill_between(lon, top, bot, color=cmap(norm(value)), linewidth=0)


def add_colorbar(fig, cax, cmap, norm, ticks, minor=None):
    cb = fig.colorbar(ScalarMappable(norm=norm, cmap=cmap), cax=cax, ticks=ticks, spacing='uniform')
    if minor:
        cb.ax.yaxis.set_ticks(minor, minor=True)
        cb.ax.tick_params(which='minor', length=2)
        cb.set_ticklabels([str(t).replace('-', '\u2212') for t in ticks])
    else:
        cb.ax.yaxis.set_ticks([], minor=True)
        cb.set_ticklabels([f'{t:.3f}'.replace('-', '\u2212') for t in ticks])
    cb.ax.tick_params(labelsize=10)


def plot_q_panel(fig, y0, y1, lons, ps, title, dry=None):
    ax, cax = make_axes(fig, y0, y1)
    cmap = band_colors('coolwarm', 11, True)
    norm = BoundaryNorm(q_levels, 11)
    ax.fill_between([0, 359], 1, 1000, color=cmap(norm(0.5)), linewidth=0)
    for i in range(len(lons)):
        value = 0.5 * (q_levels[i + 1] + q_levels[i + 2])
        ax.fill_between(lons[i], ps[i], 1000, color=cmap(norm(value)), linewidth=0)
    if dry is not None:
        paint(ax, dry[0], dry[1], dry[2], 4.4, cmap, norm)
    style_axes(ax, False)
    ax.set_title(title[0] + "\n" + title[1], loc='left', fontsize=8, pad=5.4, linespacing=1.2)
    add_colorbar(fig, cax, cmap, norm, q_ticks)


def plot_diff_panel(fig, y0, y1):
    ax, cax = make_axes(fig, y0, y1)
    cmap = band_colors('coolwarm', 11, True)
    norm = BoundaryNorm(diff_levels, 11)
    ax.fill_between([0, 359], 1, 1000, color=cmap(norm(0)), linewidth=0)
    ax.fill_between(d1_lon, d1_p, 1000, color=cmap(norm(0.35)), linewidth=0)
    ax.fill_between(d1_gap_lon, d1_gap_p, 1000, color=cmap(norm(0)), linewidth=0)
    ax.fill_between(d1_corner_lon, d1_corner_p, 1000, color=cmap(norm(0.35)), linewidth=0)
    for lon, p, value in [(d2_lon, d2_p, 0.7), (d3_lon, d3_p, 1.1), (d4_lon, d4_p, 1.4), (d5_lon, d5_p, 1.8)]:
        ax.fill_between(lon, p, 1000, color=cmap(norm(value)), linewidth=0)
    style_axes(ax, False)
    ax.set_title(r"$\mathbf{Test} - \mathbf{Baseline}$", loc='left', fontsize=8, pad=5)
    add_colorbar(fig, cax, cmap, norm, diff_ticks)


def plot_pct_panel(fig, y0, y1):
    ax, cax = make_axes(fig, y0, y1)
    cmap = band_colors('PuOr_r', 22, False)
    norm = BoundaryNorm(pct_levels, 22)

    def to_sfc(lon, p, value):
        ax.fill_between(lon, p, 1000, color=cmap(norm(value)), linewidth=0)

    def blob(lon, top, bot, value):
        paint(ax, lon, top, bot, value, cmap, norm)

    # upper levels
    to_sfc(strip_lon, [1, 1], 17)
    blob(strip_lon, [1, 1], strip_30_bot, 35)
    blob(strip_lon, strip_20_top, strip_20_bot, 25)
    to_sfc(pct_20_top_lon, pct_20_top_p, 25)
    to_sfc(pct_30_l_lon, pct_30_l_top, 35)
    to_sfc(pct_30_l_bot_lon, pct_30_l_bot, 25)
    to_sfc(pct_30_r_lon, pct_30_r_top, 35)
    to_sfc(pct_30_r_bot_lon, pct_30_r_bot, 25)
    blob(pct_40_lon, pct_40_top, pct_40_bot, 45)
    blob(pct_50_lon, pct_50_top, pct_50_bot, 60)
    blob(pct_30_spot_lon, pct_30_spot_top, pct_30_spot_bot, 35)
    to_sfc(pct_20_bot_lon, pct_20_bot_p, 17)
    blob(pct_20_streak_lon, pct_20_streak_top, pct_20_streak_bot, 25)
    blob(pct_15_spot_lon, pct_15_spot_top, pct_15_spot_bot, 17)

    # lighter bands, each top painted down to the surface
    to_sfc(pct_10_top_lon, pct_10_top_p, 12)
    to_sfc(pct_6_top_lon, pct_6_top_p, 8)
    to_sfc(pct_4_l_lon, pct_4_l_top, 5)
    to_sfc(pct_4_c_lon, pct_4_c_top, 5)
    to_sfc(pct_4_r_lon, pct_4_r_top, 5)
    to_sfc(pct_2_l_lon, pct_2_l_top, 3)
    to_sfc(pct_2_c_lon, pct_2_c_top, 3)
    to_sfc(pct_2_r_lon, pct_2_r_top, 3)
    to_sfc(pct_0_l_lon, pct_0_l_top, 1)
    to_sfc(pct_0_c_lon, pct_0_c_top, 1)
    to_sfc(pct_0_r_lon, pct_0_r_top, 1)

    # and the darker air coming back under them
    to_sfc(pct_0_l_bot_lon, pct_0_l_bot, 3)
    to_sfc(pct_0_c_bot_lon, pct_0_c_bot, 3)
    to_sfc(pct_0_r_bot_lon, pct_0_r_bot, 3)
    to_sfc(pct_2_l_bot_lon, pct_2_l_bot, 5)
    to_sfc(pct_2_c_bot_lon, pct_2_c_bot, 5)
    to_sfc(pct_2_r_bot_lon, pct_2_r_bot, 5)
    to_sfc(pct_4_l_bot_lon, pct_4_l_bot, 8)
    to_sfc(pct_4_c_bot_lon, pct_4_c_bot, 8)
    to_sfc(pct_4_r_bot_lon, pct_4_r_bot, 8)
    to_sfc(pct_6_bot_lon, pct_6_bot_p, 12)
    to_sfc(pct_15_a_lon, pct_15_a_p, 17)
    to_sfc(pct_15_b_lon, pct_15_b_p, 17)
    to_sfc(pct_15_c_lon, pct_15_c_p, 17)
    to_sfc(pct_15_d_lon, pct_15_d_p, 17)
    to_sfc(pct_15_g_lon, pct_15_g_p, 17)
    blob(pct_15_e_lon, pct_15_e_top, pct_15_e_bot, 17)
    blob(pct_15_f_lon, pct_15_f_top, pct_15_f_bot, 17)

    # small closed patches
    to_sfc(pct_2_lb_lon, pct_2_lb_top, 3)
    blob(pct_4_m_lon, pct_4_m_top, pct_4_m_bot, 5)
    blob(pct_4_p_lon, pct_4_p_top, pct_4_p_bot, 5)
    blob(pct_4_s_lon, pct_4_s_top, pct_4_s_bot, 5)
    blob(pct_0_spot_lon, pct_0_spot_top, pct_0_spot_bot, 1)
    blob(neg_a_lon, neg_a_top, neg_a_bot, -1)
    blob(neg_b_lon, neg_b_top, neg_b_bot, -1)
    blob(neg_c_lon, neg_c_top, neg_c_bot, -1)
    blob(neg_r_lon, neg_r_top, neg_r_bot, -1)

    style_axes(ax, True)
    ax.set_xlabel('LONGITUDE', fontsize=10)
    ax.set_title(r"$\mathbf{Test\ \%\ Diff\ Baseline}$", loc='left', fontsize=8, pad=5)
    add_colorbar(fig, cax, cmap, norm, pct_ticks, minor=pct_levels)


fig = plt.figure(figsize=(3137 / 300, 3034 / 300), dpi=300)
plot_q_panel(fig, 207, 790, test_lons, test_ps, titles[0], dry=(t_dry_lon, t_dry_top, t_dry_bot))
plot_q_panel(fig, 933, 1515, base_lons, base_ps, titles[1])
plot_diff_panel(fig, 1615, 2197)
plot_pct_panel(fig, 2297, 2878)
fig.text(1618 / 3137, 1 - 58 / 3034, 'Q - DJF - Meridional', ha='center', va='center', fontsize=15)
fig.text(50 / 3137, 1 - 1518 / 3034, 'PRESSURE [hPa]', ha='center', va='center', rotation=90, fontsize=10)
fig.savefig('out.png', dpi=300)
